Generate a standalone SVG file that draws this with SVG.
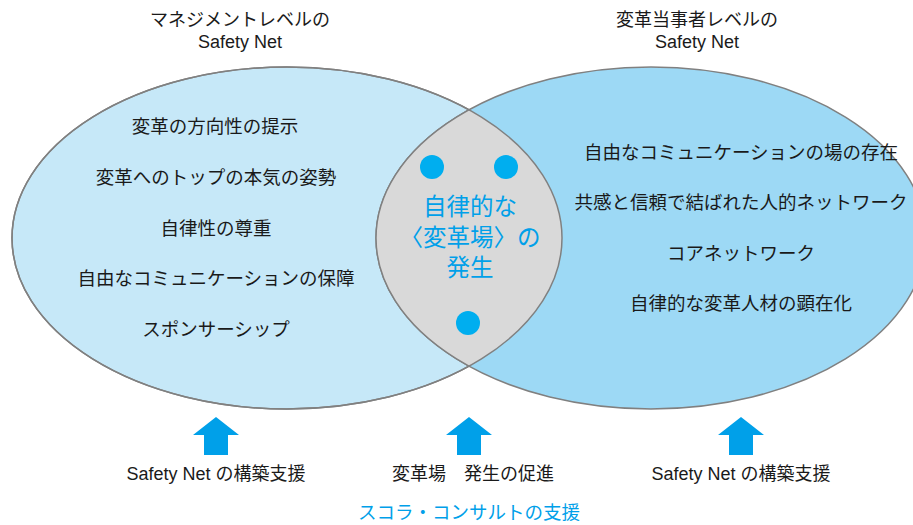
<svg xmlns="http://www.w3.org/2000/svg" width="913" height="525" viewBox="0 0 913 525">
<style>
text{font-family:"Liberation Sans","Noto Sans CJK JP",sans-serif;fill:#1a1a1a;text-anchor:middle}
.t{font-size:18px}
.i{font-size:18.5px}
.c{font-size:23.5px;fill:#00a0e9}
.b{font-size:18.5px;fill:#00a0e9}
.dot{fill:#00aeef}
.arr{fill:#00a0e9}
</style>
<defs>
<clipPath id="cl"><ellipse cx="287" cy="238" rx="275" ry="171"/></clipPath>
</defs>
<g id="left-ellipse">
<ellipse cx="287" cy="238" rx="275" ry="171" fill="#c6e8f8" stroke="#808080" stroke-width="1.5"/>
</g>
<g id="right-ellipse">
<ellipse cx="651" cy="238" rx="275" ry="171" fill="#9dd9f5" stroke="#808080" stroke-width="1.5"/>
</g>
<g id="lens">
<ellipse cx="651" cy="238" rx="275" ry="171" fill="#d9d9d9" stroke="#808080" stroke-width="1.5" clip-path="url(#cl)"/>
<ellipse cx="287" cy="238" rx="275" ry="171" fill="none" stroke="#808080" stroke-width="1.5"/>
<circle class="dot" cx="432" cy="167" r="12"/>
<circle class="dot" cx="506" cy="167" r="12"/>
<circle class="dot" cx="468" cy="323" r="12"/>
<text class="c" x="470" y="215">自律的な</text>
<text class="c" x="470" y="246">〈変革場〉の</text>
<text class="c" x="470" y="276">発生</text>
</g>
<g id="left-title">
<text class="t" x="240" y="26">マネジメントレベルの</text>
<text class="t" x="240" y="48">Safety Net</text>
</g>
<g id="right-title">
<text class="t" x="697" y="26">変革当事者レベルの</text>
<text class="t" x="697" y="48">Safety Net</text>
</g>
<g id="left-items">
<text class="i" x="215" y="133">変革の方向性の提示</text>
<text class="i" x="216" y="184">変革へのトップの本気の姿勢</text>
<text class="i" x="216" y="235">自律性の尊重</text>
<text class="i" x="216" y="285">自由なコミュニケーションの保障</text>
<text class="i" x="216" y="336">スポンサーシップ</text>
</g>
<g id="right-items">
<text class="i" x="741" y="159">自由なコミュニケーションの場の存在</text>
<text class="i" x="741" y="209">共感と信頼で結ばれた人的ネットワーク</text>
<text class="i" x="741" y="260">コアネットワーク</text>
<text class="i" x="741" y="310">自律的な変革人材の顕在化</text>
</g>
<g id="connectors">
<path class="arr" d="M216 417 L239 435 L228 435 L228 455 L204 455 L204 435 L193 435 Z"/>
<path class="arr" d="M469 417 L492 435 L481 435 L481 455 L457 455 L457 435 L446 435 Z"/>
<path class="arr" d="M741 417 L764 435 L753 435 L753 455 L729 455 L729 435 L718 435 Z"/>
</g>
<g id="bottom-labels">
<text class="t" x="216" y="480">Safety Net の構築支援</text>
<text class="t" x="473" y="480">変革場　発生の促進</text>
<text class="t" x="741" y="480">Safety Net の構築支援</text>
<text class="b" x="469" y="519">スコラ・コンサルトの支援</text>
</g>
</svg>
